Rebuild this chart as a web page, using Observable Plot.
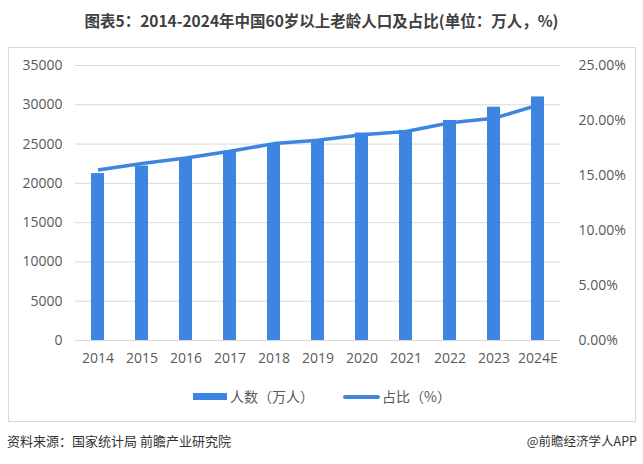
<!DOCTYPE html>
<html><head><meta charset="utf-8">
<script src="https://cdn.jsdelivr.net/npm/d3@7"></script>
<script src="https://cdn.jsdelivr.net/npm/@observablehq/plot@0.6"></script>
<style>
body{margin:0;background:#fff;}
#wrap{position:relative;width:643px;height:464px;overflow:hidden;font-family:"Noto Sans CJK SC","Noto Sans",sans-serif;}
#title{position:absolute;left:0;top:9px;width:643px;text-align:center;font-weight:bold;font-size:15.5px;color:#404040;line-height:22px;white-space:nowrap;}
#frame{position:absolute;left:8px;top:47px;width:628px;height:375px;border:1px solid #d9d9d9;box-sizing:border-box;}
#chart{position:absolute;left:0;top:47px;}
.lg{position:absolute;top:386px;height:20px;line-height:20px;font-size:14px;color:#595959;white-space:nowrap;}
.sw{position:absolute;background:#3D85E0;}
.ft{position:absolute;top:432px;line-height:18px;font-size:13px;color:#333;white-space:nowrap;}
</style></head>
<body><div id="wrap">
<div id="title">图表5：2014-2024年中国60岁以上老龄人口及占比(单位：万人，%)</div>
<div id="frame"></div>
<div id="chart"></div>
<div class="sw" style="left:193px;top:393px;width:34px;height:7px;"></div>
<div class="lg" style="left:230px;">人数（万人）</div>
<div class="sw" style="left:343px;top:395px;width:37px;height:3.5px;border-radius:2px;"></div>
<div class="lg" style="left:382px;">占比（%）</div>
<div class="ft" style="left:7px;">资料来源：国家统计局 前瞻产业研究院</div>
<div class="ft" style="right:6px;font-size:12.5px;">@前瞻经济学人APP</div>
</div>
<script>
const years = ["2014","2015","2016","2017","2018","2019","2020","2021","2022","2023","2024E"];
const population = [21242,22200,23086,24090,24949,25388,26402,26736,28004,29697,31000];
const share = [15.5,16.1,16.6,17.2,17.9,18.2,18.7,19.0,19.8,20.2,21.4];
const leftTicks = [0,5000,10000,15000,20000,25000,30000,35000];
const rightTicks = [0,5,10,15,20,25];
const leftMax = 35000, rightMax = 25;
const k = leftMax/rightMax;
const data = years.map((y,i)=>({year:y,pop:population[i],share:share[i]}));
const blue = "#3D85E0";
const chart = Plot.plot({
  width:643,height:374,
  marginTop:18,marginBottom:81,marginLeft:75,marginRight:83,
  style:{fontFamily:"'Open Sans','Noto Sans',sans-serif",fontSize:"14px",background:"transparent"},
  x:{type:"band",domain:years,paddingInner:0.7,paddingOuter:0.35,label:null},
  y:{domain:[0,leftMax],label:null},
  marks:[
    Plot.gridY(leftTicks,{stroke:"#d9d9d9",strokeOpacity:1}),
    Plot.barY(data,{x:"year",y:"pop",fill:blue}),
    Plot.lineY(data,{x:"year",y:d=>d.share*k,stroke:blue,strokeWidth:3.5,strokeLinecap:"butt"}),
    Plot.axisY(leftTicks,{anchor:"left",tickSize:0,tickPadding:13,fontSize:14,color:"#595959",tickFormat:d=>String(d),label:null}),
    Plot.axisY(rightTicks.map(v=>v*k),{anchor:"right",tickSize:0,tickPadding:18,fontSize:14,color:"#595959",tickFormat:d=>(d/k).toFixed(2)+"%",label:null}),
    Plot.axisX({tickSize:0,tickPadding:13,fontSize:14,color:"#595959",label:null})
  ]
});
document.getElementById("chart").appendChild(chart);
</script>
</body></html>
